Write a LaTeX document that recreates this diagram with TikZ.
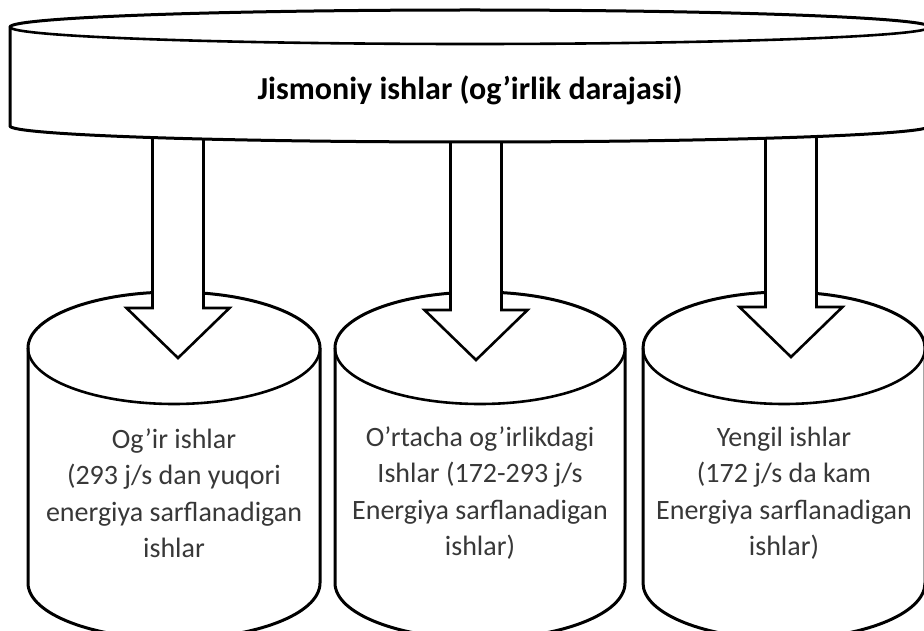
\documentclass[tikz,border=0pt]{standalone}
\usepackage{fontspec}
\setmainfont{Carlito}
\usetikzlibrary{calc}

% outline style shared by every shape
\tikzset{
  outline/.style={draw=black, line width=3pt, fill=white, line join=round},
  rim/.style={draw=black, line width=2.6pt},
  bodytext/.style={align=center, text=black!78, font=\fontsize{28}{36.5}\selectfont},
  headtext/.style={text=black, font=\bfseries\fontsize{32}{36}\selectfont},
}

% upright cylinder: centre x, top-ellipse y, bottom-ellipse y, radius x, radius y
\newcommand{\uprightcyl}[5]{%
  \path[outline] (#1-#4,#2) -- (#1-#4,#3) arc[start angle=180, end angle=360, x radius=#4, y radius=#5]
     -- (#1+#4,#2) arc[start angle=0, end angle=180, x radius=#4, y radius=#5] -- cycle;
  \draw[rim] (#1-#4,#2) arc[start angle=180, end angle=360, x radius=#4, y radius=#5];
}

% broad block arrow from a start coordinate down to a tip coordinate
\newcommand{\fatarrow}[2]{%
  \path[outline, line width=2.6pt, line join=miter] ($(#1)+(-25.5,0)$) -- ($(#2)+(-25.5,50)$) -- ($(#2)+(-51.5,50)$)
     -- (#2) -- ($(#2)+(51.5,50)$) -- ($(#2)+(25.5,50)$) -- ($(#1)+(25.5,0)$) -- cycle;
}

\begin{document}
\begin{tikzpicture}[x=1pt, y=1pt]
  \useasboundingbox (0,0) rectangle (924,630);
  \clip (0,0) rectangle (924,630);

  % three categories
  \uprightcyl{174}{282}{47}{146}{56}
  \uprightcyl{480}{282}{47}{145}{56}
  \uprightcyl{784}{282}{47}{141}{56}

  \node[bodytext] (heavy) at (174,137) {Og’ir ishlar\\(293 j/s dan yuqori\\energiya sarflanadigan\\ishlar};
  \node[bodytext] (medium) at (480,137) {O’rtacha og’irlikdagi\\Ishlar (172-293 j/s\\Energiya sarflanadigan\\ishlar)};
  \node[bodytext] (light) at (784,137) {Yengil ishlar\\(172 j/s da kam\\Energiya sarflanadigan\\ishlar)};

  % arrows from the disc into each cylinder
  \coordinate (s1) at (178,500); \coordinate (t1) at (178,272);
  \coordinate (s2) at (476,500); \coordinate (t2) at (476,270);
  \coordinate (s3) at (791,500); \coordinate (t3) at (791,273);
  \fatarrow{s1}{t1}
  \fatarrow{s2}{t2}
  \fatarrow{s3}{t3}

  % flat disc on top, running past the right edge
  \path[outline] (10,603) -- (10,504) arc[start angle=180, end angle=360, x radius=460, y radius=16]
     -- (930,603) arc[start angle=0, end angle=180, x radius=460, y radius=17] -- cycle;
  \draw[rim] (10,603) arc[start angle=180, end angle=360, x radius=460, y radius=17];
  \node[headtext] (top) at (470,540) {Jismoniy ishlar (og’irlik darajasi)};
\end{tikzpicture}
\end{document}
